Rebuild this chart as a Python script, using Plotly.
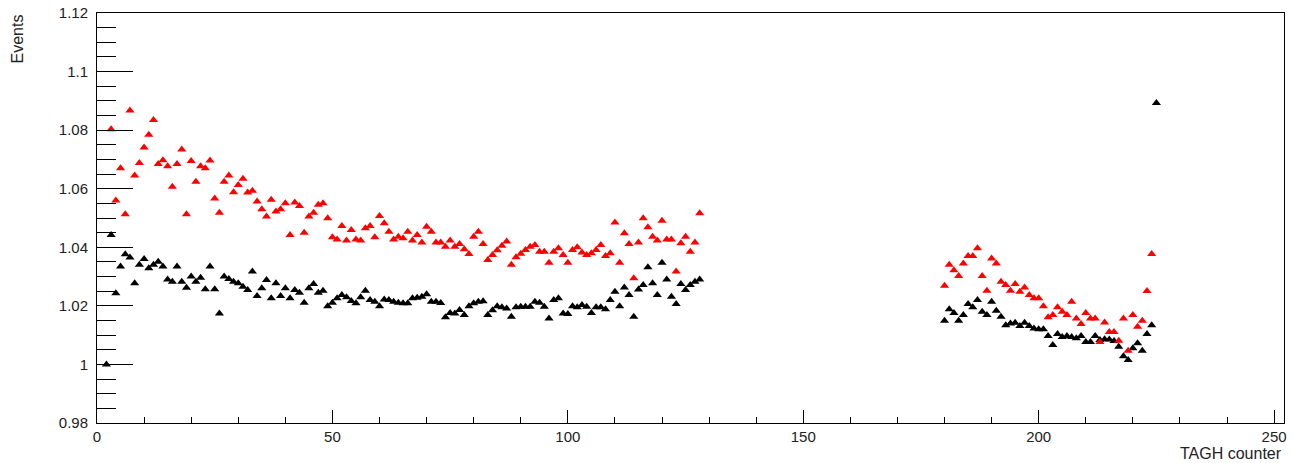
import plotly.graph_objects as go

# ---- data ----
black_counters = list(range(2, 129)) + list(range(180, 226))
black_values = [
    1.0000, 1.0442, 1.0243, 1.0334, 1.0376, 1.0365, 1.0277, 1.0340, 1.0360,  # 2-10
    1.0328, 1.0340, 1.0351, 1.0334, 1.0290, 1.0282, 1.0334, 1.0282, 1.0262, 1.0300,  # 11-20
    1.0282, 1.0296, 1.0257, 1.0334, 1.0257, 1.0174, 1.0300, 1.0292, 1.0282, 1.0277,  # 21-30
    1.0265, 1.0254, 1.0317, 1.0234, 1.0260, 1.0288, 1.0226, 1.0277, 1.0234, 1.0260,  # 31-40
    1.0226, 1.0254, 1.0245, 1.0211, 1.0260, 1.0275, 1.0245, 1.0252, 1.0199, 1.0211,  # 41-50
    1.0226, 1.0237, 1.0229, 1.0217, 1.0209, 1.0229, 1.0252, 1.0220, 1.0214, 1.0199,  # 51-60
    1.0222, 1.0220, 1.0214, 1.0211, 1.0209, 1.0209, 1.0226, 1.0228, 1.0231, 1.0240,  # 61-70
    1.0214, 1.0214, 1.0210, 1.0161, 1.0176, 1.0174, 1.0186, 1.0169, 1.0199, 1.0209,  # 71-80
    1.0214, 1.0216, 1.0169, 1.0185, 1.0199, 1.0195, 1.0191, 1.0163, 1.0195, 1.0197,  # 81-90
    1.0197, 1.0197, 1.0214, 1.0211, 1.0197, 1.0157, 1.0220, 1.0226, 1.0174, 1.0172,  # 91-100
    1.0199, 1.0195, 1.0203, 1.0197, 1.0176, 1.0195, 1.0195, 1.0188, 1.0220, 1.0248,  # 101-110
    1.0199, 1.0263, 1.0237, 1.0163, 1.0256, 1.0271, 1.0332, 1.0277, 1.0237, 1.0347,  # 111-120
    1.0290, 1.0231, 1.0206, 1.0275, 1.0254, 1.0271, 1.0282, 1.0290,  # 121-128
    1.0149, 1.0188, 1.0176, 1.0149, 1.0169, 1.0206, 1.0195, 1.0220, 1.0180, 1.0169,  # 180-189
    1.0214, 1.0183, 1.0163, 1.0134, 1.0140, 1.0142, 1.0131, 1.0142, 1.0131, 1.0123,  # 190-199
    1.0120, 1.0120, 1.0097, 1.0066, 1.0104, 1.0094, 1.0097, 1.0094, 1.0089, 1.0097,  # 200-209
    1.0077, 1.0077, 1.0097, 1.0083, 1.0086, 1.0085, 1.0080, 1.0060, 1.0028, 1.0015,  # 210-219
    1.0055, 1.0072, 1.0047, 1.0104, 1.0134, 1.0893,  # 220-225
]

red_counters = list(range(3, 129)) + list(range(180, 225))
red_values = [
    1.0803, 1.0560, 1.0670, 1.0513, 1.0867, 1.0645, 1.0688, 1.0741,  # 3-10
    1.0784, 1.0835, 1.0684, 1.0697, 1.0677, 1.0607, 1.0684, 1.0734, 1.0513, 1.0695,  # 11-20
    1.0624, 1.0677, 1.0670, 1.0696, 1.0567, 1.0518, 1.0624, 1.0645, 1.0588, 1.0613,  # 21-30
    1.0634, 1.0587, 1.0593, 1.0556, 1.0530, 1.0505, 1.0562, 1.0522, 1.0530, 1.0550,  # 31-40
    1.0442, 1.0553, 1.0541, 1.0450, 1.0505, 1.0518, 1.0545, 1.0550, 1.0499, 1.0434,  # 41-50
    1.0427, 1.0473, 1.0423, 1.0459, 1.0427, 1.0423, 1.0465, 1.0473, 1.0434, 1.0507,  # 51-60
    1.0482, 1.0453, 1.0427, 1.0436, 1.0431, 1.0453, 1.0423, 1.0442, 1.0416, 1.0470,  # 61-70
    1.0453, 1.0416, 1.0416, 1.0402, 1.0423, 1.0402, 1.0411, 1.0393, 1.0377, 1.0436,  # 71-80
    1.0453, 1.0411, 1.0357, 1.0374, 1.0390, 1.0405, 1.0420, 1.0340, 1.0366, 1.0378,  # 81-90
    1.0391, 1.0402, 1.0408, 1.0385, 1.0385, 1.0347, 1.0385, 1.0397, 1.0374, 1.0347,  # 91-100
    1.0391, 1.0400, 1.0382, 1.0374, 1.0380, 1.0391, 1.0408, 1.0370, 1.0380, 1.0485,  # 101-110
    1.0347, 1.0448, 1.0411, 1.0294, 1.0416, 1.0499, 1.0468, 1.0436, 1.0423, 1.0491,  # 111-120
    1.0427, 1.0427, 1.0317, 1.0414, 1.0436, 1.0385, 1.0416, 1.0516,  # 121-128
    1.0269, 1.0340, 1.0322, 1.0302, 1.0345, 1.0370, 1.0370, 1.0397, 1.0302, 1.0252,  # 180-189
    1.0362, 1.0345, 1.0282, 1.0271, 1.0252, 1.0275, 1.0248, 1.0263, 1.0237, 1.0226,  # 190-199
    1.0226, 1.0199, 1.0161, 1.0169, 1.0195, 1.0180, 1.0169, 1.0214, 1.0157, 1.0138,  # 200-209
    1.0176, 1.0157, 1.0157, 1.0077, 1.0143, 1.0111, 1.0111, 1.0081, 1.0157, 1.0047,  # 210-219
    1.0169, 1.0129, 1.0149, 1.0251, 1.0377,  # 220-224
]

x_range = [0, 252.1]
y_range = [0.98, 1.12]
y_tick_values = [0.98, 1.0, 1.02, 1.04, 1.06, 1.08, 1.1, 1.12]
y_tick_labels = ["0.98", "1", "1.02", "1.04", "1.06", "1.08", "1.1", "1.12"]
x_title = "TAGH counter"
y_title = "Events"

fig = go.Figure()
fig.add_trace(go.Scatter(
    x=black_counters, y=black_values, mode="markers",
    marker=dict(symbol="triangle-up", size=8, color="black", line=dict(width=0)),
    showlegend=False, hoverinfo="skip",
))
fig.add_trace(go.Scatter(
    x=red_counters, y=red_values, mode="markers",
    marker=dict(symbol="triangle-up", size=8, color="#ff0000", line=dict(width=0)),
    showlegend=False, hoverinfo="skip",
))

axis_font = dict(family="Liberation Sans, Arial, sans-serif", size=15, color="#222222")
title_font = dict(family="Liberation Sans, Arial, sans-serif", size=16, color="#222222")

fig.update_layout(
    width=1293, height=463,
    margin=dict(l=97, r=9, t=13, b=40, autoexpand=False),
    paper_bgcolor="white", plot_bgcolor="white",
    xaxis=dict(
        range=x_range, showgrid=False, zeroline=False, automargin=False,
        showline=True, linecolor="black", linewidth=1, mirror=True,
        ticks="inside", ticklen=13, tickwidth=1, tickcolor="black",
        tick0=0, dtick=50, tickfont=axis_font, ticklabelstandoff=0,
        ticklabeloverflow="allow",
        minor=dict(ticks="inside", ticklen=6, dtick=10, tick0=0, tickcolor="black", showgrid=False),
    ),
    yaxis=dict(
        range=y_range, showgrid=False, zeroline=False, automargin=False,
        showline=True, linecolor="black", linewidth=1, mirror=True,
        ticks="inside", ticklen=36, tickwidth=1, tickcolor="black",
        tickmode="array", tickvals=y_tick_values, ticktext=y_tick_labels,
        tickfont=axis_font, ticklabelstandoff=5, ticklabeloverflow="allow",
        minor=dict(ticks="inside", ticklen=19, tickmode="linear", dtick=0.005, tick0=0.98,
                   tickcolor="black", showgrid=False),
    ),
    annotations=[
        dict(text=x_title, xref="paper", yref="paper", x=1, y=0, xanchor="right",
             yanchor="top", yshift=-20, showarrow=False, font=title_font),
        dict(text=y_title, xref="paper", yref="paper", x=0, y=1, xanchor="center",
             yanchor="top", xshift=-80, textangle=-90, showarrow=False, font=title_font),
    ],
)

# remove the default page margin so the figure fills the window exactly
fig.write_html(
    "out.html",
    config={"displayModeBar": False, "staticPlot": True},
    post_script="document.body.style.margin='0';",
)
